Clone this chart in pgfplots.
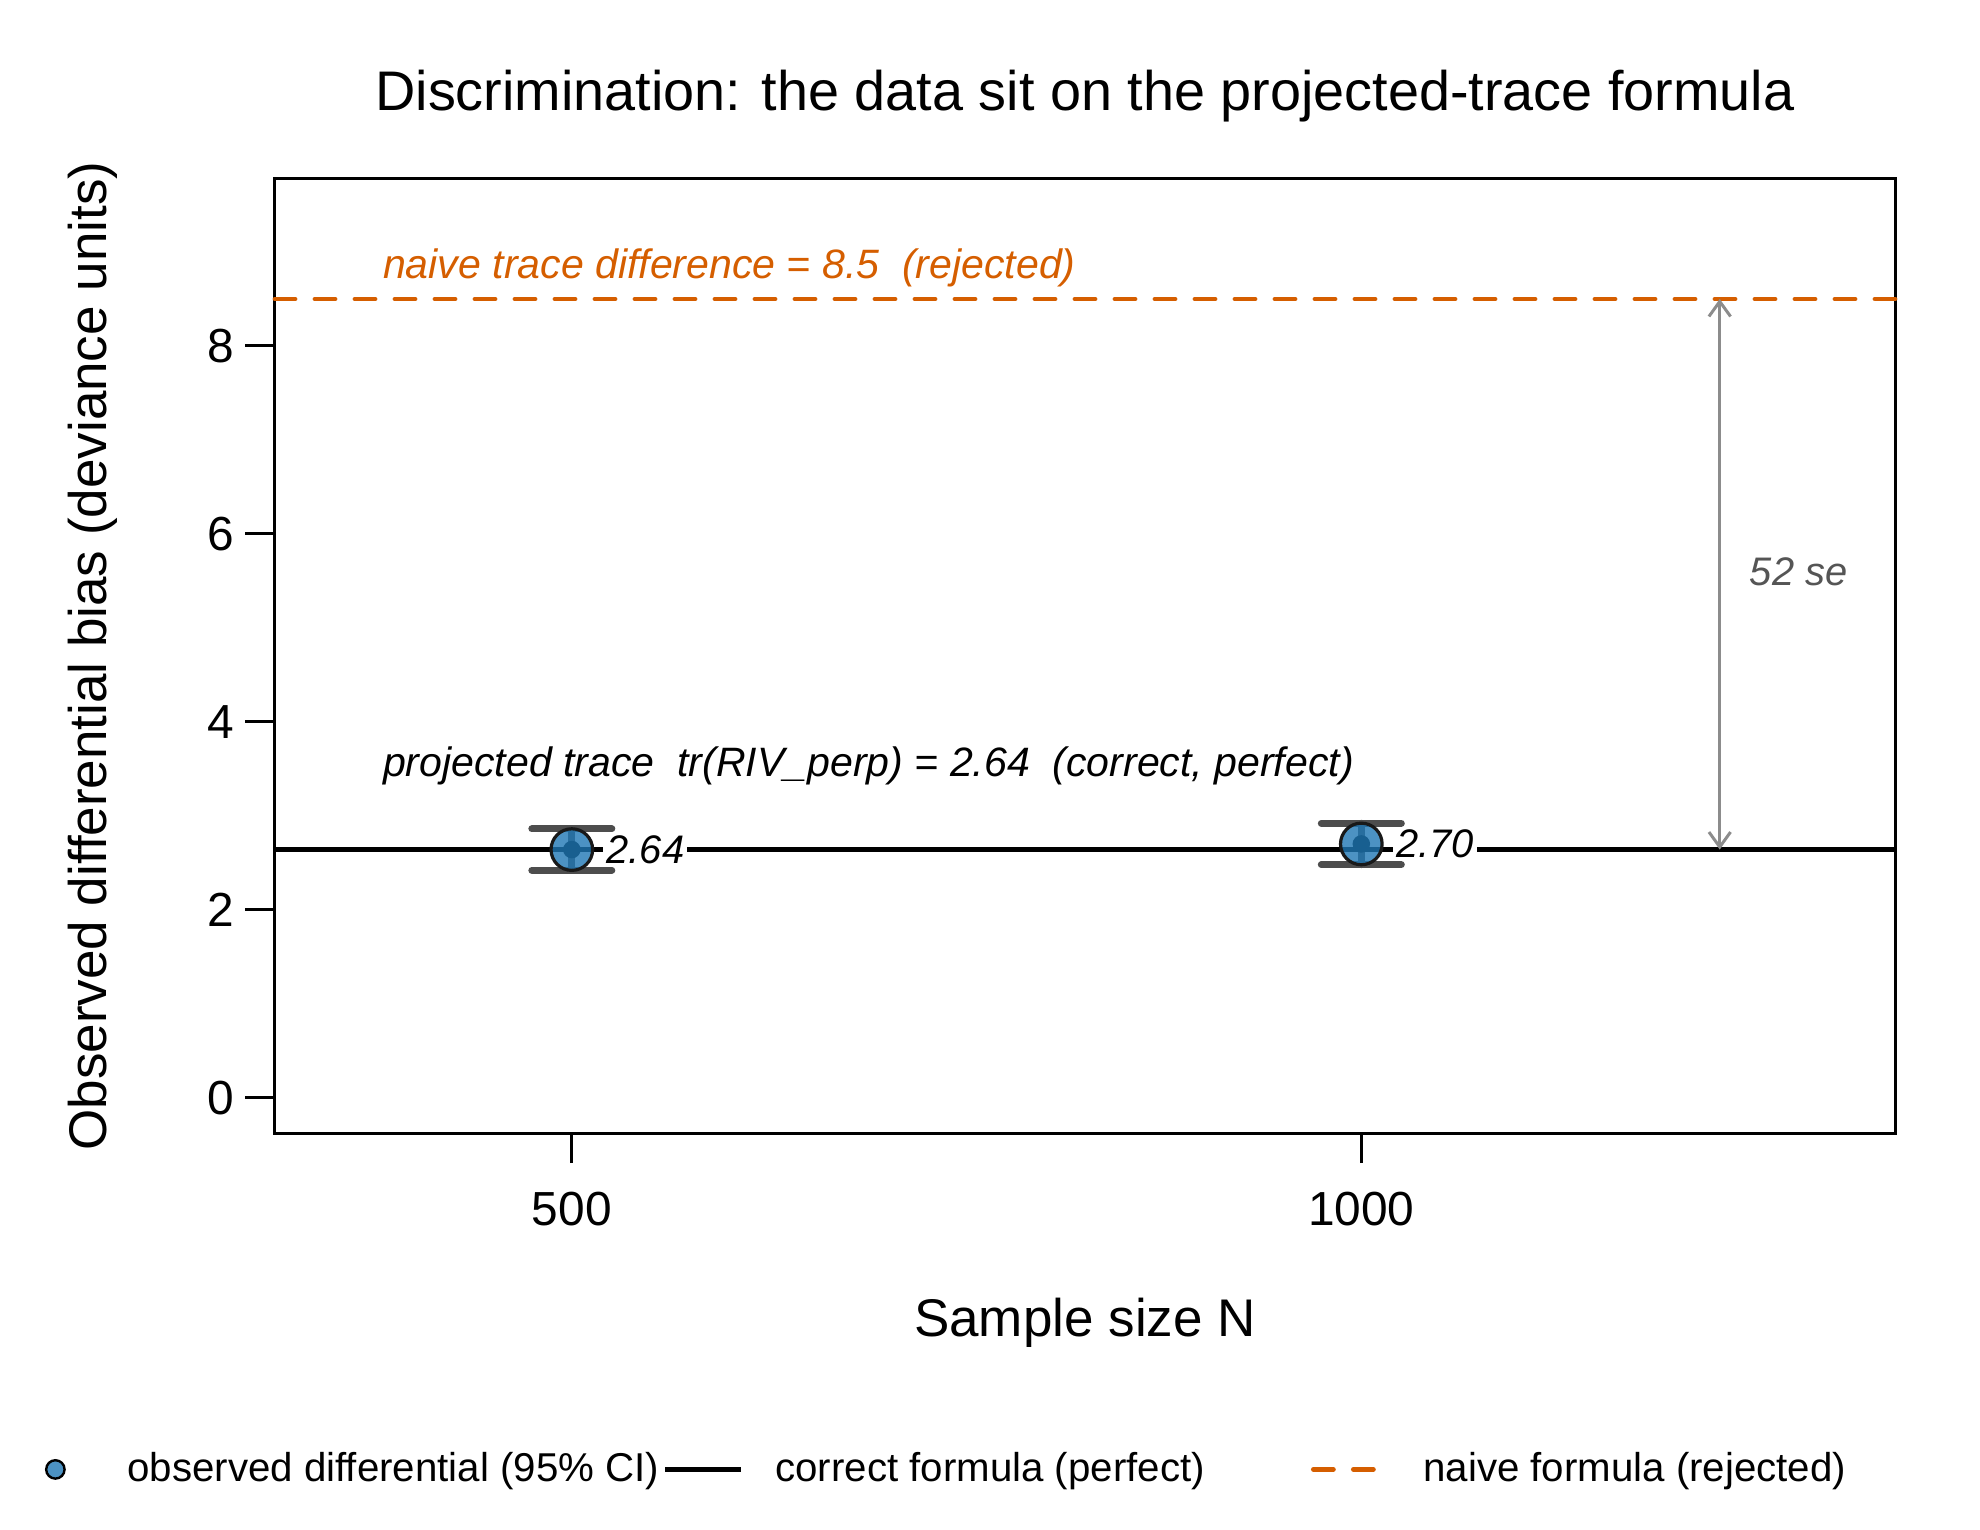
\documentclass[border=0pt]{standalone}
\usepackage{pgfplots}
\pgfplotsset{compat=1.18}
\usepackage{pgfplotstable}
\usepackage{fontspec}
\setmainfont{Liberation Sans}
\usetikzlibrary{arrows.meta}

\definecolor{ptblue}{HTML}{1F77B4}
\definecolor{naive}{HTML}{D55E00}
\definecolor{errgray}{HTML}{4D4D4D}
\definecolor{arrgray}{HTML}{8C8C8C}
\definecolor{segray}{HTML}{555555}

% observed differential bias with 95% CI half-widths
\pgfplotstableread{
N    bias  ci
500  2.64  0.22
1000 2.70  0.22
}\obsdata

\begin{document}
\begin{tikzpicture}
\path[use as bounding box] (-68.75bp,-99.25bp) rectangle (426.25bp,283.25bp);
\begin{axis}[
  scale only axis, width=405bp, height=238.5bp,
  xmin=312, xmax=1338, ymin=-0.376, ymax=9.776,
  clip=false,
  axis line style={line width=0.75bp, black},
  tick pos=left, tick align=outside, major tick length=7.5bp,
  tick style={line width=0.75bp, black},
  xtick={500,1000}, xticklabels={500,1000},
  ytick={0,2,4,6,8},
  /pgf/number format/assume math mode=true,
  ticklabel style={font=\fontsize{12}{14}\selectfont},
  xticklabel style={anchor=base, inner sep=0pt, yshift=-15.5bp},
  yticklabel style={anchor=east, inner sep=0pt, xshift=-2.6bp},
  legend columns=3,
  legend cell align=left,
  legend style={at={(axis description cs:0,0)}, anchor=west,
    xshift=-64.4bp, yshift=-84.1bp, draw=none, fill=none,
    inner sep=0pt, outer sep=0pt, nodes={inner sep=0pt},
    column sep=0pt, row sep=0pt,
    font=\fontsize{10.1}{12}\selectfont},
]
% legend entries
\addlegendimage{legend image code/.code={
  \path[draw=none, fill=none] (0bp,-1bp) rectangle (27.5bp,1bp);
  \draw[mark=*, mark size=2.3bp, mark options={draw=black, line width=0.6bp, fill=ptblue, fill opacity=0.8}] plot coordinates {(9.5bp,0bp)};
}}
\addlegendentry{\makebox[133.9bp][l]{observed differential (95\% CI)}}
\addlegendimage{legend image code/.code={
  \path[draw=none, fill=none] (0bp,-1bp) rectangle (27.5bp,1bp);
  \draw[black, line width=1.2bp] (0bp,0bp) -- (19bp,0bp);
}}
\addlegendentry{\makebox[133.9bp][l]{correct formula (perfect)}}
\addlegendimage{legend image code/.code={
  \path[draw=none, fill=none] (0bp,-1bp) rectangle (27.5bp,1bp);
  \draw[naive, line width=1.2bp, line cap=round, dash pattern=on 5bp off 5bp] (0bp,0bp) -- (19bp,0bp);
}}
\addlegendentry{\makebox[133.9bp][l]{naive formula (rejected)}}

% reference levels
\addplot[forget plot, black, line width=1.2bp] coordinates {(312,2.64) (1338,2.64)};
\addplot[forget plot, naive, line width=1.2bp, line cap=round, dash pattern=on 5bp off 5bp] coordinates {(312,8.5) (1338,8.5)};

% gap between the two formulas
\addplot[forget plot, arrgray, line width=0.75bp,
  {Straight Barb[length=3.75bp,width=5.4bp]}-{Straight Barb[length=3.75bp,width=5.4bp]}]
  coordinates {(1227,2.64) (1227,8.5)};
\node[text=segray, font=\itshape\fontsize{10}{12}\selectfont] at (axis cs:1277,5.6) {52 se};

% formula annotations
\node[anchor=west, inner sep=0pt, text=naive, font=\itshape\fontsize{10.3}{12}\selectfont]
  at (axis cs:380,8.835) {naive trace difference = 8.5\ \ (rejected)};
\node[anchor=west, inner sep=0pt, font=\itshape\fontsize{10.3}{12}\selectfont]
  at (axis cs:380,3.53) {projected trace\ \ tr(RIV\_perp) = 2.64\ \ (correct, perfect)};

% confidence intervals
\addplot[forget plot, only marks, mark=none,
  error bars/.cd, y dir=both, y explicit,
  error bar style={line width=1.75bp, errgray, line cap=round},
  error mark options={rotate=90, line width=1.75bp, errgray, mark size=10bp, line cap=round}]
  table[x=N, y=bias, y error=ci] {\obsdata};

% observed points
\addplot[forget plot, only marks, mark=*, mark size=5.2bp,
  mark options={draw=black!90, line width=0.8bp, fill=ptblue, fill opacity=0.8}]
  table[x=N, y=bias] {\obsdata};

% value labels
\node[anchor=west, fill=white, inner sep=0.8bp, font=\itshape\fontsize{10}{12}\selectfont]
  at ([xshift=7.7bp]axis cs:500,2.64) {2.64};
\node[anchor=west, fill=white, inner sep=0.8bp, font=\itshape\fontsize{10}{12}\selectfont]
  at ([xshift=7.7bp]axis cs:1000,2.70) {2.70};

% title and axis labels
\node[anchor=base, font=\fontsize{14}{17}\selectfont] at ([yshift=17bp]rel axis cs:0.5,1)
  {Discrimination: the data sit on the projected-trace formula};
\node[anchor=base, font=\fontsize{13.3}{16}\selectfont] at ([yshift=-50.75bp]rel axis cs:0.5,0)
  {Sample size N};
\node[anchor=base, rotate=90, font=\fontsize{13.3}{16}\selectfont] at ([xshift=-42.2bp]rel axis cs:0,0.5)
  {Observed differential bias (deviance units)};
\end{axis}
\end{tikzpicture}
\end{document}
